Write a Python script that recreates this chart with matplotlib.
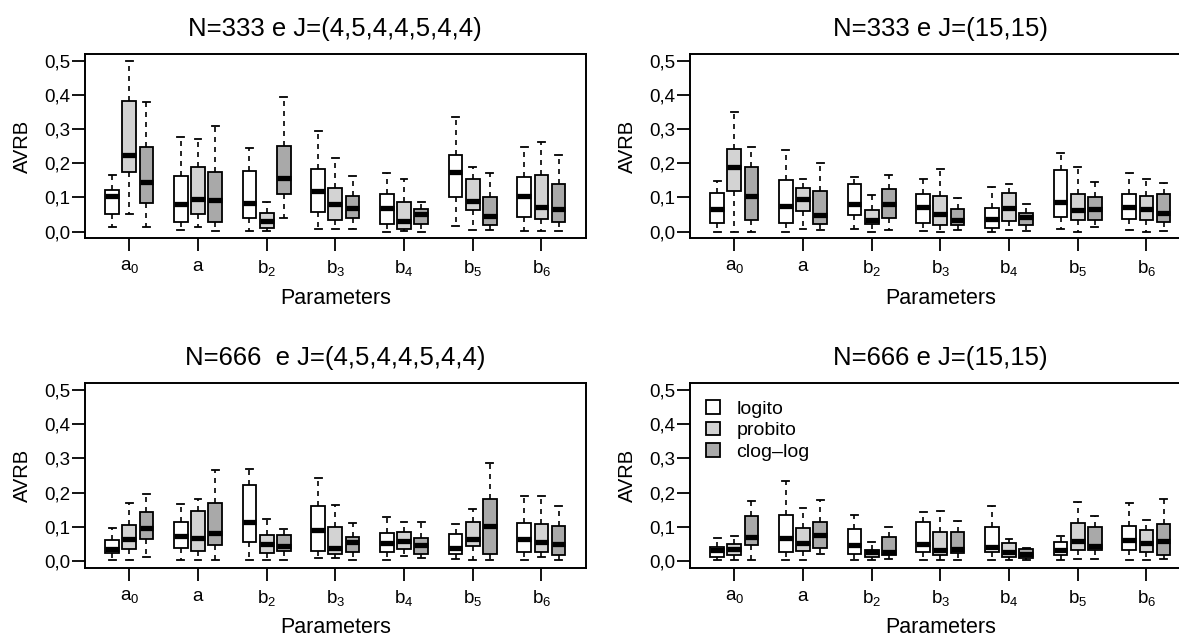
import matplotlib
matplotlib.use('Agg')
import matplotlib.pyplot as plt
from matplotlib.patches import Patch
import numpy as np

plt.rcParams['font.family'] = ['Liberation Sans', 'DejaVu Sans']
plt.rcParams['mathtext.fontset'] = 'custom'
plt.rcParams['mathtext.rm'] = 'Liberation Sans'
plt.rcParams['mathtext.it'] = 'Liberation Sans'
plt.rcParams['mathtext.default'] = 'regular'

params = ['$a_0$', '$a$', '$b_2$', '$b_3$', '$b_4$', '$b_5$', '$b_6$']
models = ['logito', 'probito', 'clog\u2013log']
colors = ['white', '#d3d3d3', '#a9a9a9']
titles = ['N=333 e J=(4,5,4,4,5,4,4)', 'N=333 e J=(15,15)',
          'N=666  e J=(4,5,4,4,5,4,4)', 'N=666 e J=(15,15)']
yticks = [0.0, 0.1, 0.2, 0.3, 0.4, 0.5]
ytick_labels = ['0,0', '0,1', '0,2', '0,3', '0,4', '0,5']

# one (logito, probito, clog-log) triple per parameter
# N=333, J=(4,5,4,4,5,4,4)
p1_low = [[0.012, 0.051, 0.012], [0.004, 0.012, 0.002], [0.002, 0.002, 0.039], [0.008, 0.008, 0.008],
          [0.000, 0.002, 0.000], [0.015, 0.004, 0.004], [0.003, 0.003, 0.003]]
p1_q1 = [[0.051, 0.173, 0.083], [0.027, 0.051, 0.027], [0.039, 0.010, 0.109], [0.056, 0.034, 0.041],
         [0.021, 0.008, 0.023], [0.100, 0.062, 0.020], [0.043, 0.037, 0.029]]
p1_med = [[0.103, 0.225, 0.144], [0.082, 0.095, 0.091], [0.083, 0.031, 0.158], [0.119, 0.082, 0.070],
          [0.068, 0.031, 0.051], [0.175, 0.089, 0.045], [0.103, 0.071, 0.065]]
p1_q3 = [[0.122, 0.381, 0.249], [0.164, 0.188, 0.173], [0.177, 0.053, 0.251], [0.183, 0.129, 0.105],
         [0.109, 0.088, 0.065], [0.225, 0.155, 0.102], [0.159, 0.165, 0.140]]
p1_high = [[0.166, 0.500, 0.378], [0.278, 0.272, 0.308], [0.246, 0.088, 0.393], [0.295, 0.215, 0.164],
           [0.172, 0.153, 0.086], [0.335, 0.188, 0.171], [0.247, 0.261, 0.223]]

# N=333, J=(15,15)
p2_low = [[0.000, 0.000, 0.000], [0.000, 0.008, 0.004], [0.008, 0.000, 0.004], [0.002, 0.000, 0.006],
          [0.000, 0.006, 0.002], [0.007, 0.000, 0.012], [0.004, 0.000, 0.002]]
p2_q1 = [[0.026, 0.119, 0.034], [0.026, 0.059, 0.022], [0.049, 0.021, 0.041], [0.025, 0.020, 0.018],
         [0.010, 0.032, 0.018], [0.042, 0.033, 0.033], [0.037, 0.033, 0.027]]
p2_med = [[0.065, 0.188, 0.104], [0.076, 0.096, 0.049], [0.082, 0.034, 0.082], [0.071, 0.051, 0.033],
          [0.036, 0.068, 0.044], [0.087, 0.064, 0.065], [0.073, 0.067, 0.054]]
p2_q3 = [[0.114, 0.241, 0.189], [0.150, 0.128, 0.119], [0.138, 0.063, 0.126], [0.110, 0.103, 0.065],
         [0.070, 0.113, 0.054], [0.180, 0.111, 0.100], [0.109, 0.105, 0.110]]
p2_high = [[0.149, 0.349, 0.249], [0.239, 0.153, 0.202], [0.160, 0.106, 0.166], [0.154, 0.184, 0.098],
           [0.130, 0.139, 0.080], [0.231, 0.188, 0.144], [0.171, 0.154, 0.141]]

# N=666, J=(4,5,4,4,5,4,4)
p3_low = [[0.002, 0.004, 0.011], [0.002, 0.004, 0.004], [0.002, 0.002, 0.002], [0.008, 0.008, 0.004],
          [0.002, 0.013, 0.007], [0.005, 0.002, 0.002], [0.002, 0.010, 0.002]]
p3_q1 = [[0.022, 0.034, 0.064], [0.037, 0.029, 0.046], [0.056, 0.024, 0.029], [0.029, 0.020, 0.026],
         [0.026, 0.035, 0.019], [0.020, 0.044, 0.019], [0.027, 0.026, 0.017]]
p3_med = [[0.036, 0.064, 0.097], [0.072, 0.066, 0.081], [0.113, 0.049, 0.045], [0.090, 0.037, 0.056],
          [0.053, 0.059, 0.046], [0.039, 0.064, 0.102], [0.065, 0.054, 0.050]]
p3_q3 = [[0.061, 0.105, 0.144], [0.113, 0.145, 0.170], [0.221, 0.077, 0.076], [0.162, 0.100, 0.071],
         [0.082, 0.084, 0.068], [0.078, 0.115, 0.180], [0.112, 0.107, 0.102]]
p3_high = [[0.095, 0.169, 0.195], [0.167, 0.181, 0.267], [0.269, 0.124, 0.094], [0.242, 0.165, 0.110],
           [0.128, 0.114, 0.114], [0.108, 0.151, 0.287], [0.189, 0.189, 0.160]]

# N=666, J=(15,15)
p4_low = [[0.002, 0.004, 0.002], [0.002, 0.002, 0.019], [0.002, 0.002, 0.005], [0.004, 0.004, 0.004],
          [0.004, 0.002, 0.002], [0.002, 0.005, 0.005], [0.002, 0.002, 0.005]]
p4_q1 = [[0.010, 0.017, 0.046], [0.025, 0.028, 0.039], [0.020, 0.012, 0.016], [0.026, 0.017, 0.024],
         [0.027, 0.010, 0.008], [0.018, 0.032, 0.031], [0.031, 0.025, 0.017]]
p4_med = [[0.031, 0.034, 0.071], [0.067, 0.051, 0.075], [0.046, 0.025, 0.026], [0.050, 0.033, 0.034],
          [0.042, 0.025, 0.019], [0.031, 0.059, 0.043], [0.060, 0.053, 0.057]]
p4_q3 = [[0.042, 0.050, 0.131], [0.135, 0.095, 0.115], [0.094, 0.033, 0.071], [0.114, 0.085, 0.084],
         [0.098, 0.052, 0.034], [0.054, 0.110, 0.099], [0.101, 0.091, 0.107]]
p4_high = [[0.067, 0.074, 0.174], [0.234, 0.154, 0.177], [0.133, 0.054, 0.098], [0.142, 0.146, 0.116],
           [0.161, 0.064, 0.039], [0.072, 0.171, 0.130], [0.170, 0.120, 0.182]]


def draw_panel(ax, low, q1, med, q3, high, title):
    stats, positions = [], []
    for g in range(len(params)):
        for m in range(len(models)):
            stats.append(dict(whislo=low[g][m], q1=q1[g][m], med=med[g][m],
                              q3=q3[g][m], whishi=high[g][m], fliers=[]))
            positions.append(4 * g + m + 1)

    res = ax.bxp(stats, positions=positions, widths=0.8, capwidths=0.4,
                 patch_artist=True, showfliers=False,
                 boxprops=dict(edgecolor='black', linewidth=1.3),
                 medianprops=dict(color='black', linewidth=3.8, solid_capstyle='butt'),
                 whiskerprops=dict(color='black', linewidth=1.2, linestyle=(0, (3, 3))),
                 capprops=dict(color='black', linewidth=1.3))
    for i, box in enumerate(res['boxes']):
        box.set_facecolor(colors[i % 3])

    ax.set_xlim(-0.58, 28.58)
    ax.set_ylim(-0.02, 0.52)
    ax.set_xticks([4 * g + 2 for g in range(len(params))])
    ax.set_xticklabels(params, fontsize=13.5)
    ax.set_yticks(yticks)
    ax.set_yticklabels(ytick_labels, fontsize=13.5)
    ax.tick_params(axis='both', direction='out', length=9.4, width=1.3)
    ax.tick_params(axis='x', pad=5)
    ax.tick_params(axis='y', pad=1)
    for sp in ax.spines.values():
        sp.set_linewidth(1.4)
    ax.set_xlabel('Parameters', fontsize=15.5, labelpad=7)
    ax.set_ylabel('AVRB', fontsize=14.5, labelpad=9)
    ax.set_title(title, fontsize=18.5, pad=13)


fig = plt.figure(figsize=(11.79, 6.39), dpi=100)
W, H = 1179.0, 639.0
rects = [[85 / W, 1 - 238.4 / H, 500.7 / W, 184.4 / H],
         [690 / W, 1 - 238.4 / H, 500.7 / W, 184.4 / H],
         [85 / W, 1 - 567.7 / H, 500.7 / W, 184.4 / H],
         [690 / W, 1 - 567.7 / H, 500.7 / W, 184.4 / H]]
data = [(p1_low, p1_q1, p1_med, p1_q3, p1_high),
        (p2_low, p2_q1, p2_med, p2_q3, p2_high),
        (p3_low, p3_q1, p3_med, p3_q3, p3_high),
        (p4_low, p4_q1, p4_med, p4_q3, p4_high)]

axes = []
for rect, d, title in zip(rects, data, titles):
    ax = fig.add_axes(rect)
    draw_panel(ax, *d, title)
    axes.append(ax)

handles = [Patch(facecolor=c, edgecolor='black', linewidth=1.3) for c in colors]
axes[3].legend(handles, models, loc='upper left', bbox_to_anchor=(0.032, 0.91),
               frameon=False, fontsize=14, handlelength=0.72, handleheight=0.72,
               handletextpad=0.85, labelspacing=0.2, borderpad=0, borderaxespad=0)

fig.savefig('out.png', dpi=100)
